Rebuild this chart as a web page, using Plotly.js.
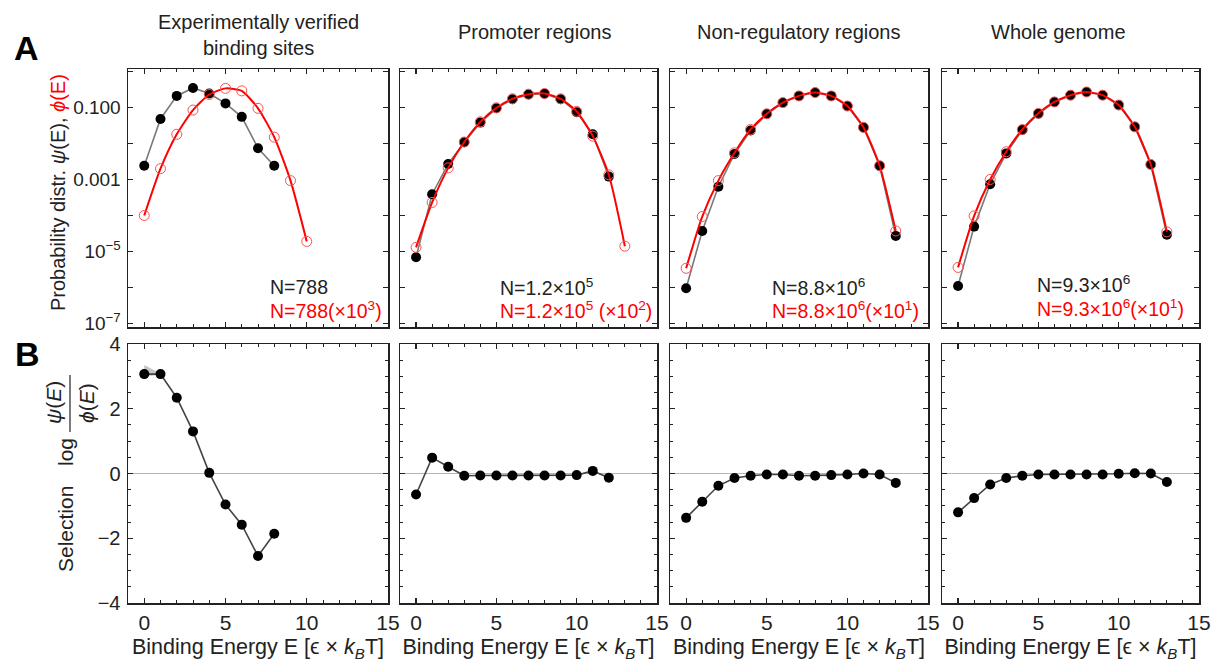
<!DOCTYPE html>
<html>
<head>
<meta charset="utf-8">
<script src="https://cdn.plot.ly/plotly-3.0.1.min.js"></script>
<style>
  html, body { margin: 0; padding: 0; background: #fff; }
  #chart { width: 1212px; height: 662px; }
</style>
</head>
<body>
<div id="chart"></div>
<script>
// Binding energy bins (units of epsilon x kBT)
const energyExpPsi = [0, 1, 2, 3, 4, 5, 6, 7, 8];
const energyExpPhi = [0, 1, 2, 3, 4, 5, 6, 7, 8, 9, 10];
const energyProPsi = [0, 1, 2, 3, 4, 5, 6, 7, 8, 9, 10, 11, 12];
const energyFull   = [0, 1, 2, 3, 4, 5, 6, 7, 8, 9, 10, 11, 12, 13];

// Experimentally verified binding sites
const psiExp = [0.0024, 0.048, 0.21, 0.35, 0.245, 0.13, 0.055, 0.0074, 0.0024];
const phiExp = [1.0e-4, 0.002, 0.018, 0.085, 0.23, 0.34, 0.29, 0.095, 0.015, 9.3e-4, 1.9e-5];
const selExp = [3.07, 3.07, 2.34, 1.30, 0.02, -0.96, -1.58, -2.55, -1.86];
const selExpBandX = [0, 1];
const selExpBandHi = [3.35, 3.09];
const selExpBandLo = [3.0, 3.05];

// Promoter regions
const psiPro = [6.9e-6, 3.9e-4, 2.7e-3, 0.0108, 0.038, 0.095, 0.17, 0.23, 0.24, 0.17, 0.074, 0.018, 0.0012];
const phiPro = [1.3e-5, 2.3e-4, 2.1e-3, 0.011, 0.040, 0.098, 0.175, 0.235, 0.245, 0.175, 0.078, 0.016, 0.00135, 1.4e-5];
const selPro = [-0.65, 0.49, 0.21, -0.07, -0.06, -0.06, -0.06, -0.06, -0.06, -0.06, -0.05, 0.08, -0.13];

// Non-regulatory regions
const psiNon = [9.5e-7, 3.7e-5, 6.3e-4, 5.1e-3, 0.023, 0.066, 0.135, 0.21, 0.26, 0.21, 0.11, 0.028, 0.0024, 2.7e-5];
const phiNon = [3.4e-6, 9.3e-5, 9.3e-4, 5.5e-3, 0.0245, 0.067, 0.137, 0.21, 0.26, 0.21, 0.11, 0.028, 0.0024, 3.7e-5];
const selNon = [-1.37, -0.87, -0.38, -0.14, -0.07, -0.03, -0.03, -0.07, -0.07, -0.05, -0.03, 0.0, -0.03, -0.29];

// Whole genome
const psiWho = [1.1e-6, 4.9e-5, 7.4e-4, 5.3e-3, 0.0237, 0.067, 0.142, 0.22, 0.27, 0.22, 0.117, 0.029, 0.0026, 2.9e-5];
const phiWho = [3.6e-6, 9.7e-5, 1.0e-3, 5.9e-3, 0.0245, 0.069, 0.143, 0.22, 0.27, 0.22, 0.117, 0.029, 0.0026, 3.5e-5];
const selWho = [-1.2, -0.76, -0.34, -0.14, -0.07, -0.03, -0.03, -0.03, -0.03, -0.03, -0.01, 0.01, 0.0, -0.26];

// Panel titles and sample-size labels
const panelTitles = ['Experimentally verified<br>binding sites', 'Promoter regions', 'Non-regulatory regions', 'Whole genome'];
const nPsiLabels = ['N=788', 'N=1.2×10<sup>5</sup>', 'N=8.8×10<sup>6</sup>', 'N=9.3×10<sup>6</sup>'];
const nPhiLabels = ['N=788(×10<sup>3</sup>)', 'N=1.2×10<sup>5</sup> (×10<sup>2</sup>)', 'N=8.8×10<sup>6</sup>(×10<sup>1</sup>)', 'N=9.3×10<sup>6</sup>(×10<sup>1</sup>)'];

// Log-axis tick labels
const logTickVals = [1e-7, 1e-6, 1e-5, 1e-4, 1e-3, 1e-2, 1e-1, 1];
const logTickText = ['10<sup>−7</sup>', '', '10<sup>−5</sup>', '', '0.001', '', '0.100', ''];
const selTickVals = [-4, -2, 0, 2, 4];
const selTickText = ['−4', '−2', '0', '2', '4'];

const panels = [
  {xPsi: energyExpPsi, psi: psiExp, xPhi: energyExpPhi, phi: phiExp, xSel: energyExpPsi, sel: selExp},
  {xPsi: energyProPsi, psi: psiPro, xPhi: energyFull, phi: phiPro, xSel: energyProPsi, sel: selPro},
  {xPsi: energyFull, psi: psiNon, xPhi: energyFull, phi: phiNon, xSel: energyFull, sel: selNon},
  {xPsi: energyFull, psi: psiWho, xPhi: energyFull, phi: phiWho, xSel: energyFull, sel: selWho}
];

// Page geometry (pixels) -> paper fractions
const W = 1212, H = 662;
const fx = v => v / W;
const fy = v => 1 - v / H;
const cols = [[128, 388], [400, 657], [670, 928], [942, 1199]];
const topRow = [69, 327];
const botRow = [344, 603];
const titleX = [258, 534, 798, 1058];
const nLabelX = [268, 498, 770, 1035];

const INK = '#222';
const FONT = 'Liberation Sans, Arial, sans-serif';

function frame(extra) {
  return Object.assign({
    showline: true, linecolor: INK, linewidth: 1.5, mirror: 'ticks',
    ticks: 'inside', ticklen: 5, tickwidth: 1.2, tickcolor: INK,
    showgrid: false, zeroline: false, fixedrange: true,
    tickfont: {size: 19, color: INK, family: FONT}
  }, extra);
}

const traces = [];
const layout = {
  width: W, height: H,
  margin: {l: 0, r: 0, t: 0, b: 0},
  paper_bgcolor: '#fff', plot_bgcolor: '#fff',
  showlegend: false,
  font: {family: FONT, color: INK},
  annotations: [], shapes: []
};

panels.forEach((p, i) => {
  const t = i + 1, b = i + 5;
  const tx = t === 1 ? 'x' : 'x' + t, ty = t === 1 ? 'y' : 'y' + t;
  const bx = 'x' + b, by = 'y' + b;
  const dom = [fx(cols[i][0]), fx(cols[i][1])];

  const xCommon = {
    range: [-1, 15], tick0: 0, dtick: 5,
    minor: {ticks: 'inside', dtick: 1, ticklen: 3, tickcolor: INK, tickwidth: 1, showgrid: false}
  };

  layout['xaxis' + (t === 1 ? '' : t)] = frame(Object.assign({}, xCommon, {
    domain: dom, anchor: ty, showticklabels: false
  }));
  layout['yaxis' + (t === 1 ? '' : t)] = frame({
    domain: [fy(topRow[1]), fy(topRow[0])], anchor: tx, type: 'log',
    range: [-7.1, 0.07], tickmode: 'array', tickvals: logTickVals, ticktext: logTickText,
    showticklabels: i === 0, ticklabelstandoff: 2
  });
  layout['xaxis' + b] = frame(Object.assign({}, xCommon, {
    domain: dom, anchor: by, showticklabels: true,
    tickfont: {size: 21, color: INK, family: FONT},
    title: {text: 'Binding Energy E [ϵ × <i>k</i><sub><i>B</i></sub>T]', font: {size: 21.5, color: INK, family: FONT}, standoff: 6}
  }));
  layout['yaxis' + b] = frame({
    domain: [fy(botRow[1]), fy(botRow[0])], anchor: bx,
    range: [-4, 4], tickmode: 'array', tickvals: selTickVals, ticktext: selTickText,
    minor: {ticks: 'inside', dtick: 0.5, ticklen: 3, tickcolor: INK, tickwidth: 1, showgrid: false},
    zeroline: true, zerolinecolor: '#b5b5b5', zerolinewidth: 1.5,
    showticklabels: i === 0, ticklabelstandoff: 2,
    tickfont: {size: 20, color: INK, family: FONT}
  });

  // Top row: observed distribution (black) and background distribution (red)
  traces.push({
    x: p.xPsi, y: p.psi, xaxis: tx, yaxis: ty, type: 'scatter', mode: 'lines+markers',
    line: {color: '#7a7a7a', width: 1.6},
    marker: {color: '#000', size: 10}, hoverinfo: 'skip'
  });
  traces.push({
    x: p.xPhi, y: p.phi, xaxis: tx, yaxis: ty, type: 'scatter', mode: 'lines+markers',
    line: {color: '#f00', width: 2, shape: 'spline', smoothing: 0.6},
    marker: {color: 'rgba(0,0,0,0)', size: 10, line: {color: '#ff5050', width: 1}},
    hoverinfo: 'skip'
  });

  // Bottom row: selection log(psi/phi)
  if (i === 0) {
    traces.push({
      x: selExpBandX, y: selExpBandLo, xaxis: bx, yaxis: by, type: 'scatter', mode: 'lines',
      line: {color: 'rgba(0,0,0,0)', width: 0}, hoverinfo: 'skip'
    });
    traces.push({
      x: selExpBandX, y: selExpBandHi, xaxis: bx, yaxis: by, type: 'scatter', mode: 'lines',
      line: {color: 'rgba(0,0,0,0)', width: 0}, fill: 'tonexty', fillcolor: 'rgba(150,150,150,0.55)',
      hoverinfo: 'skip'
    });
  }
  traces.push({
    x: p.xSel, y: p.sel, xaxis: bx, yaxis: by, type: 'scatter', mode: 'lines+markers',
    line: {color: '#444', width: 1.6},
    marker: {color: '#000', size: 10}, hoverinfo: 'skip'
  });

  // Column title
  layout.annotations.push({
    xref: 'paper', yref: 'paper', x: fx(titleX[i]), y: fy(i === 0 ? 35 : 32),
    xanchor: 'center', yanchor: 'middle', showarrow: false, align: 'center',
    text: panelTitles[i], font: {size: 20, color: INK, family: FONT}
  });
  // Sample sizes
  layout.annotations.push({
    xref: 'paper', yref: 'paper', x: fx(nLabelX[i]), y: fy(i === 3 ? 284 : 287),
    xanchor: 'left', yanchor: 'middle', showarrow: false,
    text: nPsiLabels[i], font: {size: 19.5, color: INK, family: FONT}
  });
  layout.annotations.push({
    xref: 'paper', yref: 'paper', x: fx(nLabelX[i]), y: fy(i === 3 ? 308 : 310),
    xanchor: 'left', yanchor: 'middle', showarrow: false,
    text: nPhiLabels[i], font: {size: 19.5, color: '#f00', family: FONT}
  });
});

// Panel letters
layout.annotations.push({
  xref: 'paper', yref: 'paper', x: fx(26), y: fy(48), xanchor: 'center', yanchor: 'middle',
  showarrow: false, text: '<b>A</b>', font: {size: 34, color: '#000', family: FONT}
});
layout.annotations.push({
  xref: 'paper', yref: 'paper', x: fx(27), y: fy(354), xanchor: 'center', yanchor: 'middle',
  showarrow: false, text: '<b>B</b>', font: {size: 34, color: '#000', family: FONT}
});

// Row A axis title
layout.annotations.push({
  xref: 'paper', yref: 'paper', x: fx(58), y: fy(193), xanchor: 'center', yanchor: 'middle',
  showarrow: false, textangle: -90,
  text: 'Probability distr. <i>ψ</i>(E), <span style="color:#f00"><i>ϕ</i>(E)</span>',
  font: {size: 20, color: INK, family: FONT}
});

// Row B axis title: "Selection  log" followed by the fraction psi(E)/phi(E)
layout.annotations.push({
  xref: 'paper', yref: 'paper', x: fx(65), y: fy(529), xanchor: 'center', yanchor: 'middle',
  showarrow: false, textangle: -90, text: 'Selection', font: {size: 21, color: INK, family: FONT}
});
layout.annotations.push({
  xref: 'paper', yref: 'paper', x: fx(65), y: fy(452), xanchor: 'center', yanchor: 'middle',
  showarrow: false, textangle: -90, text: 'log', font: {size: 21, color: INK, family: FONT}
});
layout.annotations.push({
  xref: 'paper', yref: 'paper', x: fx(53), y: fy(403), xanchor: 'center', yanchor: 'middle',
  showarrow: false, textangle: -90, text: '<i>ψ</i>(<i>E</i>)', font: {size: 21, color: INK, family: FONT}
});
layout.annotations.push({
  xref: 'paper', yref: 'paper', x: fx(86), y: fy(403), xanchor: 'center', yanchor: 'middle',
  showarrow: false, textangle: -90, text: '<i>ϕ</i>(<i>E</i>)', font: {size: 21, color: INK, family: FONT}
});
layout.shapes.push({
  type: 'line', xref: 'paper', yref: 'paper',
  x0: fx(70), x1: fx(70), y0: fy(375), y1: fy(432),
  line: {color: INK, width: 1.2}
});

Plotly.newPlot('chart', traces, layout, {displayModeBar: false, staticPlot: true});
</script>
</body>
</html>
